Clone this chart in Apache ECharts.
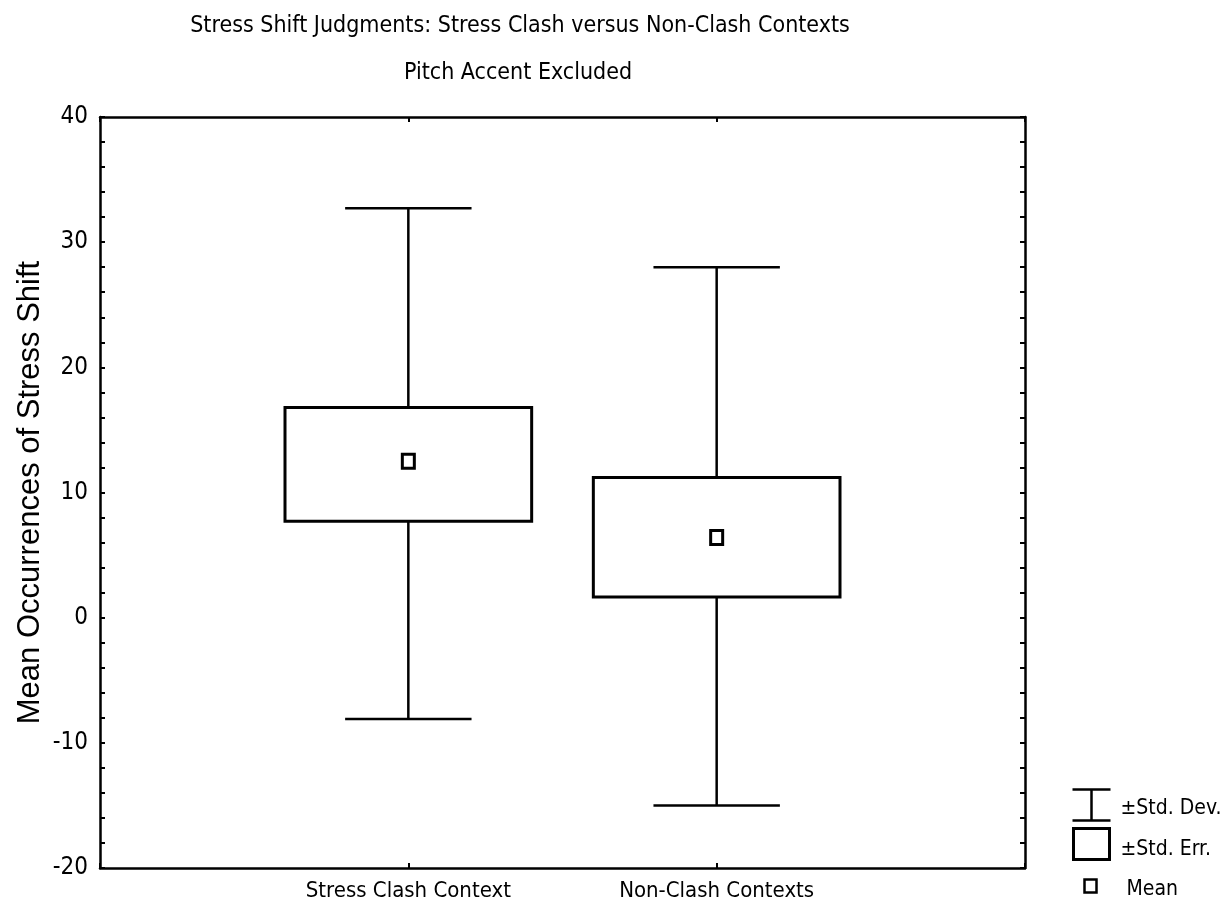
<!DOCTYPE html>
<html><head><meta charset="utf-8">
<script src="https://cdn.jsdelivr.net/npm/echarts@6/dist/echarts.min.js"></script>
<style>html,body{margin:0;padding:0;background:#fff}#c{width:1227px;height:916px}</style>
</head><body><div id="c"></div>
<script>
const categories = ['Stress Clash Context', 'Non-Clash Contexts'];
const means = [12.5, 6.4];
const seLow = [7.7, 1.65];
const seHigh = [16.8, 11.2];
const sdLow = [-8.1, -15.0];
const sdHigh = [32.7, 28.0];
const yTicks = [-20, -10, 0, 10, 20, 30, 40];

const NARROW = "'DejaVu Sans Condensed',sans-serif";
const data = categories.map((c, i) => [i + 1, sdLow[i], seLow[i], means[i], seHigh[i], sdHigh[i]]);

function renderItem(params, api) {
  const x = api.value(0);
  const pLo = api.coord([x, api.value(1)]);
  const pSeLo = api.coord([x, api.value(2)]);
  const pM = api.coord([x, api.value(3)]);
  const pSeHi = api.coord([x, api.value(4)]);
  const pHi = api.coord([x, api.value(5)]);
  const boxW = api.size([0.8, 0])[0];
  const capW = api.size([0.41, 0])[0];
  const st = {stroke: '#000', lineWidth: 2.5, fill: null};
  return {type: 'group', children: [
    {type: 'line', shape: {x1: pM[0], y1: pHi[1], x2: pM[0], y2: pSeHi[1]}, style: st},
    {type: 'line', shape: {x1: pM[0], y1: pSeLo[1], x2: pM[0], y2: pLo[1]}, style: st},
    {type: 'line', shape: {x1: pM[0] - capW / 2, y1: pHi[1], x2: pM[0] + capW / 2, y2: pHi[1]}, style: st},
    {type: 'line', shape: {x1: pM[0] - capW / 2, y1: pLo[1], x2: pM[0] + capW / 2, y2: pLo[1]}, style: st},
    {type: 'rect', shape: {x: pM[0] - boxW / 2, y: pSeHi[1], width: boxW, height: pSeLo[1] - pSeHi[1]}, style: {stroke: '#000', lineWidth: 3, fill: '#fff'}},
    {type: 'rect', shape: {x: pM[0] - 6, y: pM[1] - 7, width: 12, height: 14}, style: {stroke: '#000', lineWidth: 3, fill: '#fff'}}
  ]};
}

const chart = echarts.init(document.getElementById('c'), null, {renderer: 'canvas'});
const yCommon = {
  type: 'value', min: yTicks[0], max: yTicks[yTicks.length - 1], interval: 2,
  axisLine: {show: true, onZero: false, lineStyle: {color: '#000', width: 2.5}},
  axisTick: {show: true, inside: true, length: 5, lineStyle: {color: '#000', width: 2}},
  splitLine: {show: false}
};
chart.setOption({
  animation: false,
  backgroundColor: '#fff',
  title: [
    {text: 'Stress Shift Judgments: Stress Clash versus Non-Clash Contexts', left: 515, top: 10, textAlign: 'center',
     textStyle: {fontFamily: NARROW, fontSize: 23, fontWeight: 'normal', color: '#000'}},
    {text: 'Pitch Accent Excluded', left: 513, top: 57, textAlign: 'center',
     textStyle: {fontFamily: NARROW, fontSize: 23, fontWeight: 'normal', color: '#000'}}
  ],
  grid: {left: 100, right: 202, top: 117, bottom: 48},
  xAxis: [
    {type: 'value', min: 0, max: 3, interval: 1, position: 'bottom',
     axisLine: {show: true, onZero: false, lineStyle: {color: '#000', width: 2.5}},
     axisTick: {show: true, inside: true, length: 5, lineStyle: {color: '#000', width: 2}},
     splitLine: {show: false},
     axisLabel: {formatter: v => (v >= 1 && v <= categories.length) ? categories[v - 1] : '', margin: 12,
       fontFamily: NARROW, fontSize: 22, color: '#000'}},
    {type: 'value', min: 0, max: 3, interval: 1, position: 'top',
     axisLine: {show: true, onZero: false, lineStyle: {color: '#000', width: 2.5}},
     axisTick: {show: true, inside: true, length: 5, lineStyle: {color: '#000', width: 2}},
     splitLine: {show: false}, axisLabel: {show: false}}
  ],
  yAxis: [
    Object.assign({}, yCommon, {position: 'left',
      name: 'Mean Occurrences of Stress Shift', nameLocation: 'middle', nameGap: 54, nameMoveOverlap: false,
      nameTextStyle: {fontFamily: "'Liberation Sans',Arial,sans-serif", fontSize: 31, color: '#000'},
      axisLabel: {formatter: v => (yTicks.indexOf(v) >= 0 ? String(v) : ''), showMinLabel: true, showMaxLabel: true,
        fontFamily: NARROW, fontSize: 24, color: '#000', margin: 12}}),
    Object.assign({}, yCommon, {position: 'right', axisLabel: {show: false}})
  ],
  series: [{type: 'custom', renderItem: renderItem, data: data, encode: {x: 0, y: [1, 2, 3, 4, 5]}, clip: false}],
  graphic: [
    {type: 'group', left: 1070, top: 787, children: [
      {type: 'line', shape: {x1: 0, y1: 1, x2: 38, y2: 1}, style: {stroke: '#000', lineWidth: 2.5}},
      {type: 'line', shape: {x1: 19, y1: 1, x2: 19, y2: 32}, style: {stroke: '#000', lineWidth: 2.5}},
      {type: 'line', shape: {x1: 0, y1: 32, x2: 38, y2: 32}, style: {stroke: '#000', lineWidth: 2.5}},
      {type: 'rect', shape: {x: 1, y: 40, width: 36, height: 31}, style: {stroke: '#000', lineWidth: 3, fill: '#fff'}},
      {type: 'rect', shape: {x: 12, y: 91, width: 12, height: 13}, style: {stroke: '#000', lineWidth: 2.5, fill: '#fff'}},
      {type: 'text', x: 48, y: 20, style: {text: '±Std. Dev.', fontFamily: NARROW, fontSize: 21, fill: '#000', verticalAlign: 'middle'}},
      {type: 'text', x: 48, y: 61, style: {text: '±Std. Err.', fontFamily: NARROW, fontSize: 21, fill: '#000', verticalAlign: 'middle'}},
      {type: 'text', x: 54, y: 101, style: {text: 'Mean', fontFamily: NARROW, fontSize: 21, fill: '#000', verticalAlign: 'middle'}}
    ]}
  ]
});
</script></body></html>
